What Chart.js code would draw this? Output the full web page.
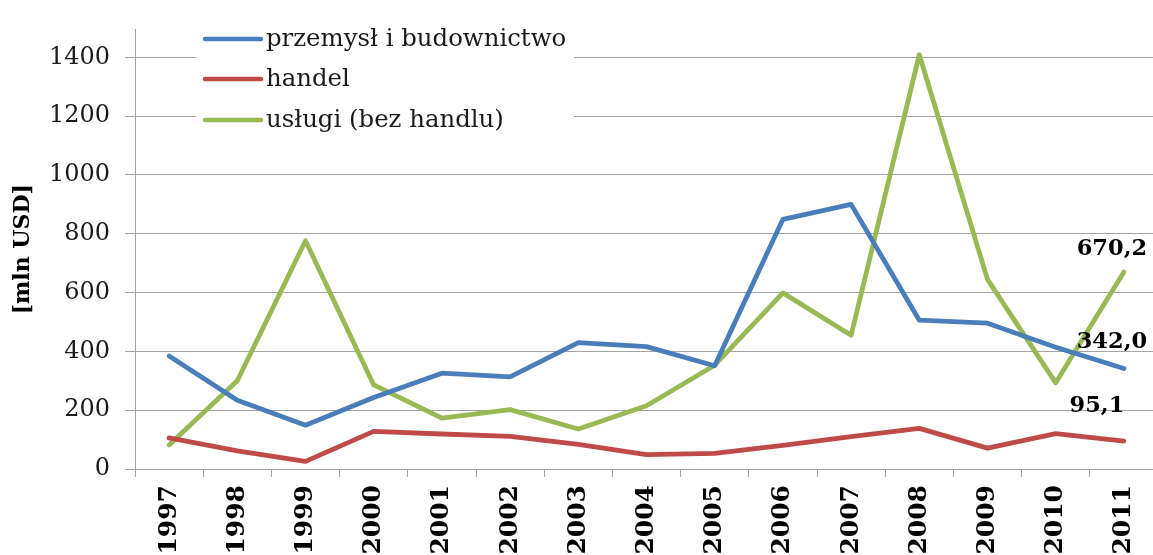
<!DOCTYPE html>
<html>
<head>
<meta charset="utf-8">
<script src="https://cdn.jsdelivr.net/npm/chart.js@4"></script>
<style>
  html, body { margin: 0; padding: 0; background: #fff; overflow: hidden; }
</style>
</head>
<body>
<canvas id="chart" width="1168" height="555"></canvas>
<script>
const years = ['1997', '1998', '1999', '2000', '2001', '2002', '2003', '2004',
  '2005', '2006', '2007', '2008', '2009', '2010', '2011'];
const seriesNames = ['przemysł i budownictwo', 'handel', 'usługi (bez handlu)'];
const przemysl = [384, 234, 149, 243, 326, 313, 430, 416, 351, 849, 900, 506, 496, 414, 342.0];
const handel = [106, 62, 26, 128, 119, 111, 84, 49, 53, 80, 110, 138, 71, 120, 95.1];
const uslugi = [82, 300, 776, 286, 173, 202, 136, 215, 353, 599, 455, 1409, 645, 293, 670.2];
const lastLabels = ['342,0', '95,1', '670,2'];

const FONT = 'DejaVu Serif';
const GRID = '#a3a3a3';

// legend drawn inside the plot, on a white box over the gridlines
const boxLegend = {
  id: 'boxLegend',
  afterDatasetsDraw(chart) {
    const ctx = chart.ctx;
    ctx.save();
    ctx.fillStyle = '#fff';
    ctx.fillRect(196, 24, 378, 120);
    ctx.font = '24.4px "' + FONT + '"';
    ctx.textBaseline = 'middle';
    ctx.fillStyle = '#1a1a1a';
    const rows = [39, 79, 120];
    chart.data.datasets.forEach((ds, i) => {
      ctx.strokeStyle = ds.borderColor;
      ctx.lineWidth = 4.5;
      ctx.lineCap = 'round';
      ctx.beginPath();
      ctx.moveTo(205, rows[i]);
      ctx.lineTo(261, rows[i]);
      ctx.stroke();
      ctx.fillText(ds.label, 266, rows[i] + 1);
    });
    ctx.restore();
  }
};

// value labels for the last year
const endLabels = {
  id: 'endLabels',
  afterDraw(chart) {
    const ctx = chart.ctx;
    const offs = [[-12, -26], [-27, -35], [-12, -23]];
    ctx.save();
    ctx.font = 'bold 22.5px "' + FONT + '"';
    ctx.fillStyle = '#000';
    ctx.textAlign = 'center';
    ctx.textBaseline = 'middle';
    chart.data.datasets.forEach((ds, i) => {
      const pt = chart.getDatasetMeta(i).data[years.length - 1];
      ctx.fillText(lastLabels[i], pt.x + offs[i][0], pt.y + offs[i][1]);
    });
    ctx.restore();
  }
};

const ctx = document.getElementById('chart').getContext('2d');
new Chart(ctx, {
  type: 'line',
  data: {
    labels: years,
    datasets: [
      { label: seriesNames[0], data: przemysl, borderColor: '#4a7ebb' },
      { label: seriesNames[1], data: handel, borderColor: '#be4b48' },
      { label: seriesNames[2], data: uslugi, borderColor: '#98b954' }
    ]
  },
  options: {
    responsive: false,
    animation: false,
    devicePixelRatio: 1,
    layout: { padding: { top: 12, right: 10, left: 0, bottom: 0 } },
    elements: {
      line: { borderWidth: 4.8, tension: 0, borderJoinStyle: 'round', borderCapStyle: 'round' },
      point: { radius: 0 }
    },
    plugins: {
      legend: { display: false },
      tooltip: { enabled: false }
    },
    scales: {
      x: {
        offset: true,
        grid: { offset: true, drawOnChartArea: false, tickLength: 8, color: GRID },
        border: { color: GRID },
        ticks: {
          autoSkip: false, minRotation: 90, maxRotation: 90, padding: 8,
          color: '#000', font: { family: FONT, size: 25, weight: 'bold' }
        },
        afterFit: s => { s.height = 86; }
      },
      y: {
        min: 0,
        max: 1495,
        grid: { color: GRID, tickLength: 10 },
        border: { color: GRID },
        ticks: {
          stepSize: 200, padding: 15,
          color: '#1a1a1a', font: { family: FONT, size: 24 },
          callback: v => String(v)
        },
        afterBuildTicks: s => { s.ticks = s.ticks.filter(t => t.value % 200 === 0); },
        title: {
          display: true, text: '[mln USD]', color: '#000',
          font: { family: FONT, size: 22, weight: 'bold' },
          padding: { top: 10, bottom: 0 }
        },
        afterFit: s => { s.width = 135; }
      }
    }
  },
  plugins: [boxLegend, endLabels]
});
</script>
</body>
</html>
